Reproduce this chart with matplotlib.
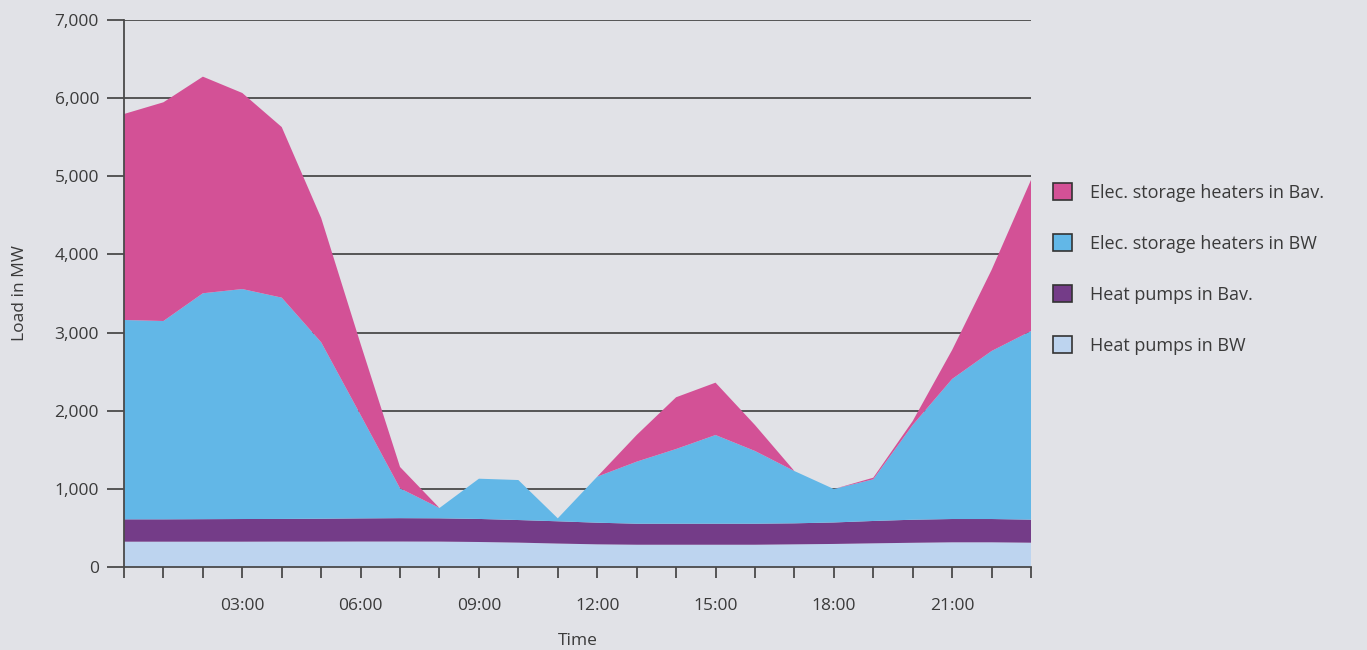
import numpy as np
import matplotlib.pyplot as plt
from matplotlib.patches import Patch
from matplotlib.ticker import FuncFormatter

hours = list(range(24))
tick_hours = [3, 6, 9, 12, 15, 18, 21]
tick_labels = ["03:00", "06:00", "09:00", "12:00", "15:00", "18:00", "21:00"]

# load per hour in MW
hp_bw = [324, 324, 324, 324, 325, 325, 326, 326, 325, 320, 312, 300,
         290, 285, 285, 285, 285, 290, 295, 303, 310, 316, 316, 311]
hp_bav = [286, 286, 288, 290, 290, 293, 296, 299, 298, 295, 289, 285,
          277, 269, 269, 269, 269, 269, 275, 286, 295, 298, 298, 295]
esh_bw = [2551, 2538, 2891, 2943, 2832, 2258, 1323, 382, 132, 515, 512, 38,
          589, 794, 956, 1135, 931, 669, 428, 533, 1212, 1792, 2150, 2414]
esh_bav = [2636, 2799, 2772, 2509, 2183, 1590, 909, 273, 0, 0, 0, 0,
           0, 341, 662, 670, 332, 0, 0, 21, 51, 371, 1037, 1933]

labels = ["Heat pumps in BW", "Heat pumps in Bav.",
          "Elec. storage heaters in BW", "Elec. storage heaters in Bav."]
colors = ["#bdd4ef", "#743c88", "#62b7e7", "#d35196"]

bg = "#e1e2e7"
text_col = "#3a3a3a"
plt.rcParams['font.family'] = ['Open Sans', 'DejaVu Sans']

fig = plt.figure(figsize=(13.67, 6.5), dpi=100, facecolor=bg)
ax = fig.add_axes([124 / 1367, 83 / 650, 907 / 1367, 547 / 650])
ax.set_facecolor(bg)

ax.stackplot(hours, hp_bw, hp_bav, esh_bw, esh_bav, colors=colors,
             linewidth=0, zorder=2)

ax.set_xlim(0, 23)
ax.set_ylim(0, 7000)
ax.set_yticks(np.arange(0, 7001, 1000))
ax.yaxis.set_major_formatter(FuncFormatter(lambda v, p: f"{int(v):,}"))
ax.set_xticks(hours)
ax.set_xticklabels([tick_labels[tick_hours.index(h)] if h in tick_hours else ""
                    for h in hours])

for y in range(1000, 7001, 1000):
    ax.axhline(y, color="#4a4a4a", linewidth=1.3, zorder=1)

for s in ["top", "right"]:
    ax.spines[s].set_visible(False)
for s in ["left", "bottom"]:
    ax.spines[s].set_color("#4a4a4a")
    ax.spines[s].set_linewidth(1.3)
    ax.spines[s].set_zorder(3)

ax.tick_params(axis="y", length=12, width=1.3, color="#4a4a4a",
               labelsize=12.5, labelcolor=text_col, pad=6)
ax.tick_params(axis="x", length=8, width=1.3, color="#4a4a4a",
               labelsize=12.5, labelcolor=text_col, pad=14)

ax.set_xlabel("Time", fontsize=12.5, color=text_col, labelpad=14)
ax.set_ylabel("Load in MW", fontsize=12.5, color=text_col, labelpad=19)

handles = [Patch(facecolor=c, edgecolor="#333333", linewidth=1.2, label=l)
           for c, l in zip(colors, labels)][::-1]
ax.legend(handles=handles, loc="center left", bbox_to_anchor=(1.006, 0.545),
          frameon=False, fontsize=13, labelcolor=text_col,
          handlelength=1.05, handleheight=1.05, handletextpad=1.0,
          labelspacing=1.8)

fig.savefig("out.png", dpi=100, facecolor=bg)
